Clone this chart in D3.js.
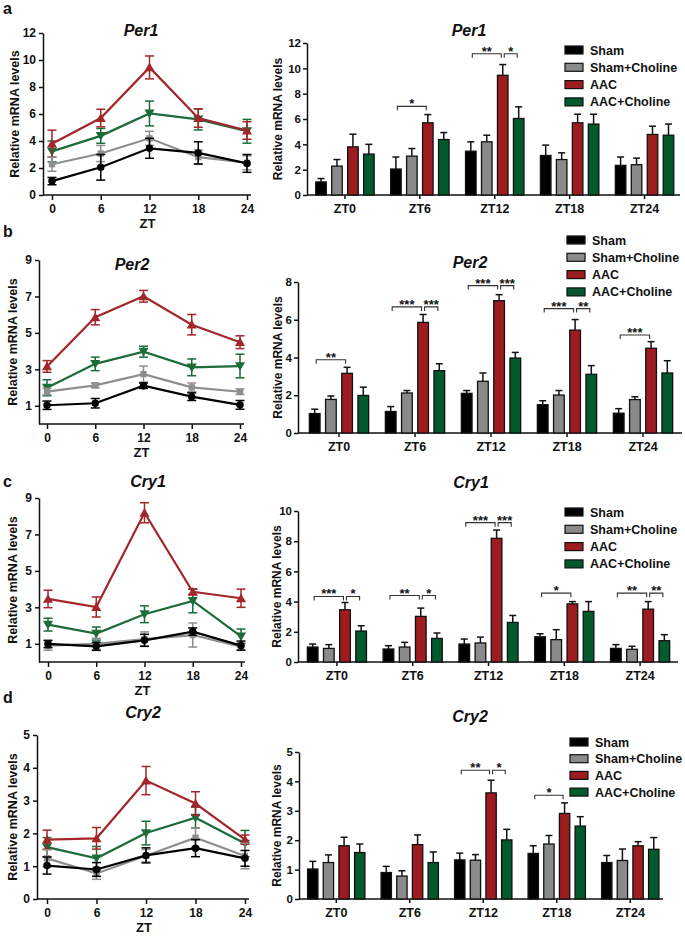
<!DOCTYPE html>
<html><head><meta charset="utf-8">
<script src="https://cdn.jsdelivr.net/npm/d3@7/dist/d3.min.js"></script>
<style>
body{margin:0;background:#fff}
svg{display:block}
text{font-family:"Liberation Sans",Arial,sans-serif;font-weight:bold;fill:#111}
</style>
</head><body>
<svg id="c" width="685" height="936"></svg>
<script>
// ---------- DATA ----------
const zt = [0, 6, 12, 18, 24];
const ztLabels = ["ZT0", "ZT6", "ZT12", "ZT18", "ZT24"];
const groups = ["Sham", "Sham+Choline", "AAC", "AAC+Choline"];
const genes = ["Per1", "Per2", "Cry1", "Cry2"];
const panelLetters = ["a", "b", "c", "d"];

// means: rows = groups, cols = ZT0..ZT24
const per1Mean = [[1.03, 2.05, 3.46, 3.12, 2.34], [2.28, 3.07, 4.2, 2.8, 2.39], [3.8, 5.7, 9.45, 5.7, 4.78], [3.23, 4.38, 6.04, 5.6, 4.72]];
const per1Err  = [[0.27, 0.95, 0.74, 0.82, 0.66], [0.52, 0.6, 0.52, 0.53, 0.52], [1.0, 0.65, 0.85, 0.68, 0.65], [0.77, 0.55, 0.92, 0.78, 0.88]];
const per2Mean = [[1.03, 1.14, 2.1, 1.5, 1.05], [1.78, 2.12, 2.74, 2.01, 1.77], [3.16, 5.86, 7.01, 5.45, 4.49], [1.99, 3.3, 3.97, 3.11, 3.18]];
const per2Err  = [[0.23, 0.26, 0.15, 0.21, 0.24], [0.18, 0.13, 0.44, 0.24, 0.15], [0.32, 0.42, 0.32, 0.56, 0.35], [0.44, 0.37, 0.3, 0.46, 0.65]];
const cry1Mean = [[0.99, 0.86, 1.19, 1.67, 0.9], [0.9, 0.99, 1.26, 1.48, 0.84], [3.46, 3.02, 8.19, 3.85, 3.5], [2.05, 1.56, 2.62, 3.35, 1.41]];
const cry1Err  = [[0.2, 0.22, 0.33, 0.2, 0.25], [0.25, 0.31, 0.39, 0.66, 0.2], [0.48, 0.55, 0.55, 0.15, 0.5], [0.35, 0.36, 0.46, 0.65, 0.4]];
const cry2Mean = [[1.02, 0.9, 1.33, 1.55, 1.24], [1.24, 0.78, 1.32, 1.87, 1.31], [1.81, 1.85, 3.61, 2.91, 1.81], [1.58, 1.24, 2.01, 2.48, 1.69]];
const cry2Err  = [[0.26, 0.21, 0.23, 0.26, 0.24], [0.26, 0.18, 0.19, 0.29, 0.39], [0.29, 0.33, 0.43, 0.36, 0.14], [0.29, 0.36, 0.36, 0.32, 0.4]];

// significance: [ZT index, from group, to group, bracket level, label]
const per1Sig = [[1, 0, 2, 7.0, "*"], [2, 0, 2, 11.15, "**"], [2, 2, 3, 11.15, "*"]];
const per2Sig = [[0, 0, 2, 3.88, "**"], [1, 0, 2, 6.68, "***"], [1, 2, 3, 6.68, "***"], [2, 0, 2, 7.81, "***"], [2, 2, 3, 7.81, "***"], [3, 0, 2, 6.59, "***"], [3, 2, 3, 6.59, "**"], [4, 0, 2, 5.19, "***"]];
const cry1Sig = [[0, 0, 2, 4.34, "***"], [0, 2, 3, 4.34, "*"], [1, 0, 2, 4.4, "**"], [1, 2, 3, 4.4, "*"], [2, 0, 2, 9.23, "***"], [2, 2, 3, 9.23, "***"], [3, 0, 2, 4.56, "*"], [4, 0, 2, 4.56, "**"], [4, 2, 3, 4.56, "**"]];
const cry2Sig = [[2, 0, 2, 4.38, "**"], [2, 2, 3, 4.38, "*"], [3, 0, 2, 3.53, "*"]];

const lineTicks = [[0, 2, 4, 6, 8, 10, 12], [1, 3, 5, 7, 9], [1, 3, 5, 7, 9], [0, 1, 2, 3, 4, 5]];
const lineMax = [12, 9, 9, 5];
const barTicks = [[0, 2, 4, 6, 8, 10, 12], [0, 2, 4, 6, 8], [0, 2, 4, 6, 8, 10], [0, 1, 2, 3, 4, 5]];
const barMax = [12, 8, 10, 5];

const means = [per1Mean, per2Mean, cry1Mean, cry2Mean];
const errs = [per1Err, per2Err, cry1Err, cry2Err];
const sigs = [per1Sig, per2Sig, cry1Sig, cry2Sig];

// ---------- STYLE / LAYOUT ----------
const lineColors = ["#000000", "#8e8e8e", "#a3262a", "#1c6b38"];
const barColors = ["#000000", "#8a8a8a", "#9d1c20", "#005a2c"];
const symbols = [d3.symbolCircle, d3.symbolSquare, d3.symbolTriangle, d3.symbolTriangle];
const symSizes = [44, 40, 44, 44];
const symRot = [0, 0, 0, 180];
const intFmt = d3.format("d");

const layout = [
  {letterY: 14, ylabL: 15, ylabB: 278,
   line: {ax: 43, x0: 52, x24: 247, y0: 195, yT: 33, tx: 141, ty: 36},
   bar: {ax: 307, r0: 307.5, r1: 682, end: 680, y0: 195, yT: 43, tx: 469, ty: 36, lx: 565, ly: 50, ls: 17.3}},
  {letterY: 237, ylabL: 13, ylabB: 278,
   line: {ax: 39, x0: 47, x24: 240, y0: 424, yT: 260, tx: 132, ty: 270},
   bar: {ax: 298, r0: 301, r1: 681, end: 682, y0: 433, yT: 282, tx: 470, ty: 268, lx: 567, ly: 240, ls: 17.3}},
  {letterY: 487, ylabL: 13, ylabB: 277,
   line: {ax: 39, x0: 48, x24: 241, y0: 662, yT: 498, tx: 148, ty: 487},
   bar: {ax: 298, r0: 299, r1: 678, end: 678, y0: 662, yT: 511, tx: 471, ty: 488, lx: 565, ly: 512, ls: 17.3}},
  {letterY: 703, ylabL: 13, ylabB: 277,
   line: {ax: 37, x0: 47, x24: 245, y0: 899, yT: 735, tx: 143, ty: 718},
   bar: {ax: 299, r0: 299.5, r1: 667, end: 663, y0: 899, yT: 752, tx: 470, ty: 722, lx: 570, ly: 742, ls: 16.7}}
];

const svg = d3.select("#c");

function styleAxis(g, fs) {
  g.selectAll("path,line").attr("stroke", "#111").attr("stroke-width", 1.5);
  g.selectAll("text").attr("font-size", fs).attr("font-weight", "bold")
    .attr("font-family", '"Liberation Sans",Arial,sans-serif').attr("fill", "#111");
}

genes.forEach((gene, r) => {
  const L = layout[r];
  const M = means[r], E = errs[r];

  svg.append("text").attr("x", 3).attr("y", L.letterY).attr("font-size", 16).text(panelLetters[r]);

  // ---------- LINE CHART ----------
  const lp = L.line;
  const x = d3.scaleLinear().domain([0, 24]).range([lp.x0, lp.x24]);
  const y = d3.scaleLinear().domain([0, lineMax[r]]).range([lp.y0, lp.yT]);
  const gl = svg.append("g");

  gl.append("g").attr("transform", `translate(${lp.ax},0)`)
    .call(d3.axisLeft(y).tickValues(lineTicks[r]).tickFormat(intFmt).tickSize(4).tickSizeOuter(0).tickPadding(3))
    .call(g => styleAxis(g, 12));
  const xa = gl.append("g").attr("transform", `translate(0,${lp.y0})`)
    .call(d3.axisBottom(x).tickValues(zt).tickFormat(intFmt).tickSize(5).tickPadding(4))
    .call(g => styleAxis(g, 12));
  xa.select(".domain").remove();
  gl.append("line").attr("x1", lp.ax).attr("x2", lp.x24 + 4).attr("y1", lp.y0).attr("y2", lp.y0)
    .attr("stroke", "#111").attr("stroke-width", 1.5);

  gl.append("text").attr("x", (lp.x0 + lp.x24) / 2 - 2).attr("y", lp.y0 + 33)
    .attr("text-anchor", "middle").attr("font-size", 13).text("ZT");
  gl.append("text").attr("x", lp.tx).attr("y", lp.ty).attr("text-anchor", "middle")
    .attr("font-size", 16).attr("font-style", "italic").text(gene);
  gl.append("text").attr("transform", `translate(${L.ylabL},${(lp.y0 + lp.yT) / 2}) rotate(-90)`)
    .attr("text-anchor", "middle").attr("dy", "0.35em").attr("font-size", 12.5).text("Relative mRNA levels");

  const order = [3, 2, 1, 0];
  const lineGen = d3.line().x((d, i) => x(zt[i])).y(d => y(d));
  order.forEach(s => {
    const gs = gl.append("g");
    gs.append("path").datum(M[s]).attr("d", lineGen).attr("fill", "none")
      .attr("stroke", lineColors[s]).attr("stroke-width", 2.2);
    M[s].forEach((m, i) => {
      const cx = x(zt[i]);
      const e = E[s][i];
      gs.append("line").attr("x1", cx).attr("x2", cx).attr("y1", y(m - e)).attr("y2", y(m + e))
        .attr("stroke", lineColors[s]).attr("stroke-width", 1.5);
      [m - e, m + e].forEach(v => gs.append("line").attr("x1", cx - 4.5).attr("x2", cx + 4.5)
        .attr("y1", y(v)).attr("y2", y(v)).attr("stroke", lineColors[s]).attr("stroke-width", 1.5));
      gs.append("path").attr("d", d3.symbol().type(symbols[s]).size(symSizes[s])())
        .attr("transform", `translate(${cx},${y(m) + (s === 2 ? 1 : s === 3 ? -1 : 0)}) rotate(${symRot[s]})`)
        .attr("fill", lineColors[s]);
    });
  });

  // ---------- BAR CHART ----------
  const bp = L.bar;
  const x0 = d3.scaleBand().domain(ztLabels).range([bp.r0, bp.r1]).padding(0);
  const bw = x0.bandwidth();
  const x1 = d3.scaleBand().domain(groups).range([bw * 0.11, bw * 0.89]).paddingInner(0.34);
  const yb = d3.scaleLinear().domain([0, barMax[r]]).range([bp.y0, bp.yT]);
  const gb = svg.append("g");

  gb.append("g").attr("transform", `translate(${bp.ax},0)`)
    .call(d3.axisLeft(yb).tickValues(barTicks[r]).tickFormat(intFmt).tickSize(4).tickSizeOuter(0).tickPadding(2))
    .call(g => styleAxis(g, 11.5));
  const xb = gb.append("g").attr("transform", `translate(0,${bp.y0})`)
    .call(d3.axisBottom(x0).tickSize(4).tickPadding(5))
    .call(g => styleAxis(g, 12.5));
  xb.select(".domain").remove();
  gb.append("line").attr("x1", bp.ax).attr("x2", bp.end).attr("y1", bp.y0).attr("y2", bp.y0)
    .attr("stroke", "#111").attr("stroke-width", 1.5);

  gb.append("text").attr("x", bp.tx).attr("y", bp.ty).attr("text-anchor", "middle")
    .attr("font-size", 16).attr("font-style", "italic").text(gene);
  gb.append("text").attr("transform", `translate(${L.ylabB},${(bp.y0 + bp.yT) / 2}) rotate(-90)`)
    .attr("text-anchor", "middle").attr("dy", "0.35em").attr("font-size", 12).text("Relative mRNA levels");

  groups.forEach((gname, s) => {
    M[s].forEach((m, i) => {
      const bx = x0(ztLabels[i]) + x1(gname);
      const w = x1.bandwidth();
      const cx = bx + w / 2;
      const e = E[s][i];
      gb.append("line").attr("x1", cx).attr("x2", cx).attr("y1", yb(m)).attr("y2", yb(m + e))
        .attr("stroke", "#111").attr("stroke-width", 1.5);
      gb.append("line").attr("x1", cx - 3.5).attr("x2", cx + 3.5).attr("y1", yb(m + e)).attr("y2", yb(m + e))
        .attr("stroke", "#111").attr("stroke-width", 1.5);
      gb.append("rect").attr("x", bx).attr("y", yb(m)).attr("width", w).attr("height", yb(0) - yb(m))
        .attr("fill", barColors[s]).attr("stroke", "#111").attr("stroke-width", 1.3);
    });
  });

  // significance brackets
  sigs[r].forEach(([i, a, b, lv, lab]) => {
    const xa_ = x0(ztLabels[i]) + x1(groups[a]) + x1.bandwidth() / 2 + 1.5;
    const xb_ = x0(ztLabels[i]) + x1(groups[b]) + x1.bandwidth() / 2 - 1.5;
    const yy = yb(lv);
    gb.append("path").attr("d", `M${xa_},${yy + 4}V${yy}H${xb_}V${yy + 4}`)
      .attr("fill", "none").attr("stroke", "#333").attr("stroke-width", 1.1);
    gb.append("text").attr("x", (xa_ + xb_) / 2).attr("y", yy + 2).attr("text-anchor", "middle")
      .attr("font-size", 13).text(lab);
  });

  // legend
  groups.forEach((gname, s) => {
    const ly = bp.ly + s * bp.ls;
    gb.append("rect").attr("x", bp.lx).attr("y", ly - 4).attr("width", 18).attr("height", 8)
      .attr("fill", barColors[s]).attr("stroke", "#111").attr("stroke-width", 1.2);
    gb.append("text").attr("x", bp.lx + 25).attr("y", ly).attr("dy", "0.36em")
      .attr("font-size", 12.5).text(gname);
  });
});
</script>
</body></html>
